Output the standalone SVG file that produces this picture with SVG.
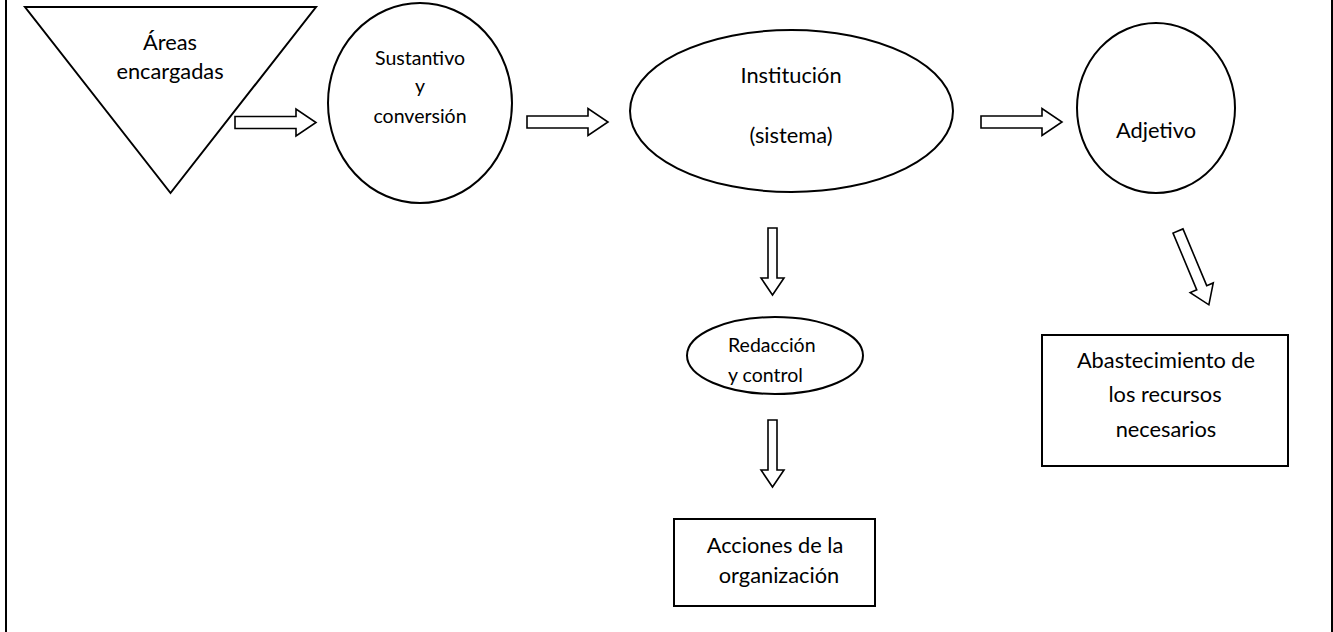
<svg xmlns="http://www.w3.org/2000/svg" width="1333" height="632" viewBox="0 0 1333 632">
<style>
.s{fill:#fff;stroke:#000;stroke-width:2}
.a{fill:#fff;stroke:#000;stroke-width:1.6;stroke-linejoin:miter}
text{font-family:Lato,"Liberation Sans",sans-serif;font-size:21.8px;fill:#000;text-anchor:middle}
.sm{font-size:19.5px}
.l{text-anchor:start}
</style>
<defs>
<path id="harrow" d="M0,-6 H61 V-13.5 L81,0 L61,13.5 V6 H0 Z"/>
<path id="varrow" d="M-4.5,0 V50 H-11.5 L0,67 L11.5,50 H4.5 V0 Z"/>
<path id="darrow" d="M0,-5.4 H61.5 V-12.5 L80,0 L61.5,12.5 V5.4 H0 Z"/>
</defs>
<rect width="1333" height="632" fill="#fff"/>
<g id="frame" stroke="#000" stroke-width="2">
<line x1="6" y1="0" x2="6" y2="632"/>
<line x1="1332" y1="0" x2="1332" y2="632"/>
</g>
<g id="connectors">
<use href="#harrow" class="a" transform="translate(235,122.5)"/>
<use href="#harrow" class="a" transform="translate(527,122)"/>
<use href="#harrow" class="a" transform="translate(981,122)"/>
<use href="#varrow" class="a" transform="translate(772.5,228)"/>
<use href="#varrow" class="a" transform="translate(772.5,420)"/>
<use href="#darrow" class="a" transform="translate(1178,231) rotate(67.3)"/>
</g>
<g id="areas">
<polygon class="s" points="25,7 316,7 170.5,193"/>
<text x="170" y="50">Áreas</text>
<text x="170" y="79">encargadas</text>
</g>
<g id="sustantivo">
<ellipse class="s" cx="420" cy="103" rx="92" ry="100"/>
<text class="sm" x="420" y="65">Sustantivo</text>
<text class="sm" x="420" y="93">y</text>
<text class="sm" x="420" y="123">conversión</text>
</g>
<g id="institucion">
<ellipse class="s" cx="791.5" cy="111" rx="161.5" ry="81"/>
<text x="791" y="83">Institución</text>
<text x="791" y="143">(sistema)</text>
</g>
<g id="adjetivo">
<ellipse class="s" cx="1156" cy="108" rx="79" ry="85"/>
<text x="1156" y="138">Adjetivo</text>
</g>
<g id="redaccion">
<ellipse class="s" cx="775" cy="355.5" rx="88" ry="38.5"/>
<text class="sm l" x="728" y="352">Redacción</text>
<text class="sm l" x="728" y="382">y control</text>
</g>
<g id="acciones">
<rect class="s" x="674" y="519" width="201" height="87"/>
<text x="775" y="553">Acciones de la</text>
<text x="779" y="583">organización</text>
</g>
<g id="abastecimiento">
<rect class="s" x="1042" y="335" width="246" height="131"/>
<text x="1166" y="368">Abastecimiento de</text>
<text x="1165" y="402">los recursos</text>
<text x="1166" y="437">necesarios</text>
</g>
</svg>
